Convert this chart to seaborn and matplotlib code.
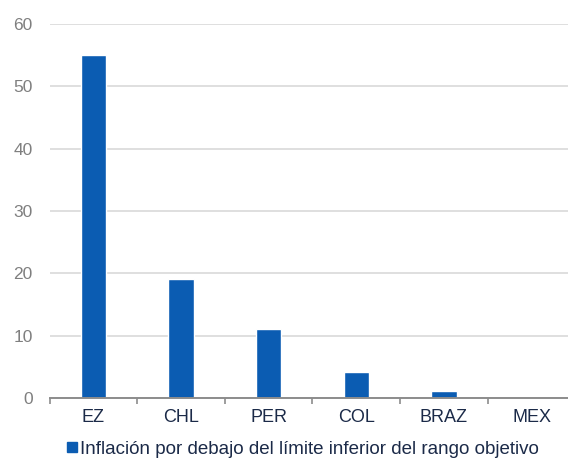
import matplotlib
matplotlib.use("Agg")
import matplotlib.pyplot as plt
from matplotlib.lines import Line2D
import seaborn as sns
import pandas as pd

countries = ["EZ", "CHL", "PER", "COL", "BRAZ", "MEX"]
share_below = [55.0, 19.1, 11.1, 4.1, 1.2, 0.0]
series_label = "Inflación por debajo del límite inferior del rango objetivo"
y_ticks = [0, 10, 20, 30, 40, 50, 60]

sns.set_theme(style="white")
plt.rcParams["font.family"] = ["Liberation Sans", "DejaVu Sans"]

bar_color = "#0B5CB2"
df = pd.DataFrame({"country": countries, "value": share_below})

fig = plt.figure(figsize=(5.68, 4.59), dpi=100)
# plot area runs past the right edge of the canvas
ax = fig.add_axes([49.5 / 568, 1 - 398 / 459, 526 / 568, 374 / 459])

sns.barplot(data=df, x="country", y="value", color=bar_color, width=0.29,
            saturation=1, ax=ax, zorder=3)

ax.set_xlim(-0.5, 5.5)
ax.set_ylim(0, 60)
ax.set_yticks(y_ticks)
ax.yaxis.grid(True, color="#D9D9D9", linewidth=1.2, zorder=0)
ax.set_axisbelow(True)
ax.set_xlabel("")
ax.set_ylabel("")

for side in ["top", "right", "left"]:
    ax.spines[side].set_visible(False)
ax.spines["bottom"].set_color("#8C8C8C")
ax.spines["bottom"].set_linewidth(1.4)
ax.spines["bottom"].set_zorder(4)

# category separators as ticks below the axis
ax.set_xticks([i - 0.5 for i in range(len(countries) + 1)], minor=True)
ax.tick_params(axis="x", which="minor", length=4, width=1.2, color="#8C8C8C",
               direction="out", bottom=True)
ax.tick_params(axis="x", which="major", length=0, pad=8, labelsize=13,
               labelcolor="#1B2A48")
ax.tick_params(axis="y", length=0, pad=12, labelsize=12.5, labelcolor="#7F7F7F")

handle = Line2D([], [], marker="s", linestyle="", markersize=7,
                markerfacecolor=bar_color, markeredgecolor=bar_color)
fig.legend([handle], [series_label], loc="center", bbox_to_anchor=(0.531, 0.021),
           frameon=False, fontsize=13.5, handletextpad=0.05, handlelength=0.8,
           borderaxespad=0, labelcolor="#1B2A48")

fig.savefig("out.png", dpi=100)
